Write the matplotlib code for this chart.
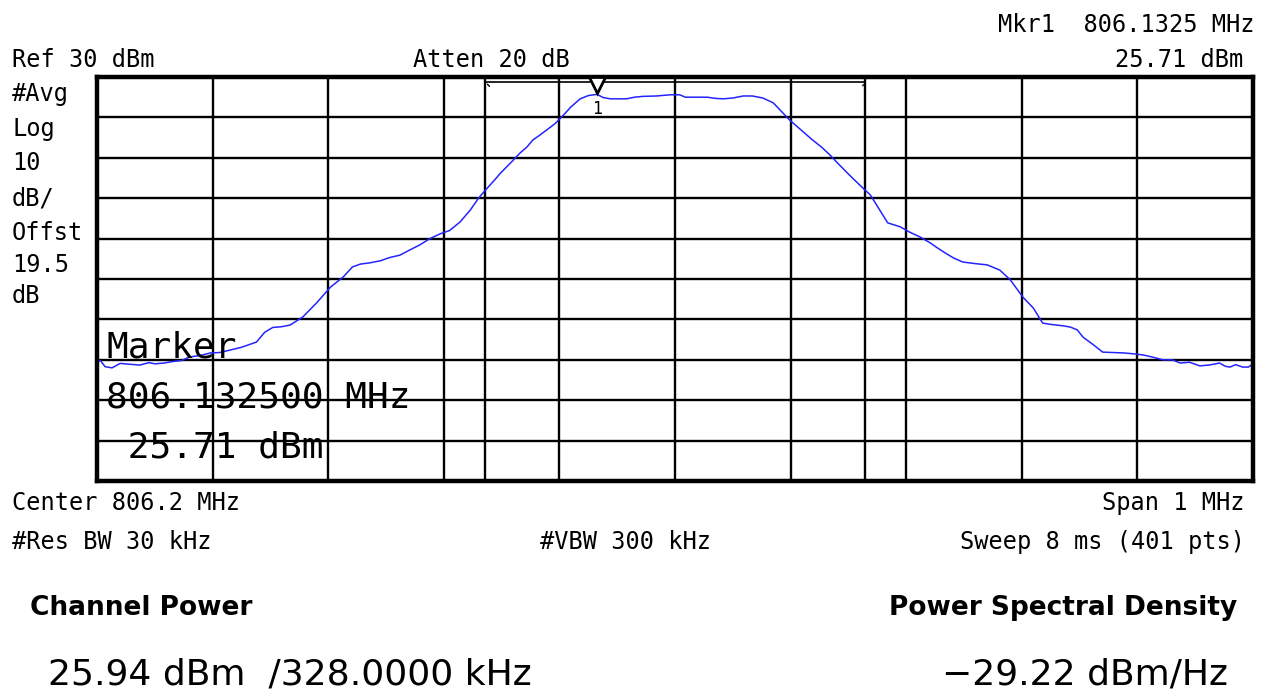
import matplotlib
matplotlib.use("Agg")
import matplotlib.pyplot as plt
import matplotlib.transforms as mtransforms

# ---------------- data ----------------
center_mhz = 806.2
span_mhz = 1.0
ref_dbm = 30.0
db_per_div = 10.0
channel_bw_mhz = 0.328

marker_freq_mhz = 806.1325
marker_level_dbm = 25.71

trace_offset_khz = [0, 3, 7, 13, 20, 28, 37, 45, 50, 58, 66, 73, 80, 90, 98, 106,
                    115, 125, 138, 145, 152, 160, 167, 178, 190, 202, 213, 221,
                    228, 236, 245, 253, 262, 270, 279, 288, 297, 305, 314, 323,
                    330, 336, 343, 349, 358, 366, 372, 377, 383, 389, 396, 402,
                    410, 418, 425, 432.5, 438, 444, 451, 458, 465, 472, 484, 496,
                    504, 509, 518, 528, 535, 542, 550, 559, 567, 576, 585, 591,
                    599, 609, 619, 627, 634, 642, 651, 660, 669, 677, 684, 695,
                    703, 712, 721, 727, 734, 741, 749, 760, 770, 781, 790, 801,
                    810, 818, 824, 830, 836, 842, 848, 853, 862, 870, 879, 888,
                    896, 905, 914, 922, 930, 937, 945, 954, 962, 971, 976, 980,
                    985, 991, 996, 1000]
trace_dbm = [-40.5, -40.2, -41.7, -42.0, -40.9, -41.1, -41.3, -40.7, -41.0, -40.8,
             -40.4, -40.2, -39.3, -38.9, -38.3, -38.2, -37.6, -36.9, -35.6, -33.2,
             -32.0, -31.8, -31.4, -29.4, -25.9, -22.0, -19.5, -17.0, -16.3, -16.0,
             -15.5, -14.7, -14.1, -12.9, -11.6, -10.0, -8.8, -8.0, -5.9, -2.9,
             0.0, 2.0, 4.2, 6.2, 8.8, 11.2, 12.7, 14.4, 15.6, 16.9, 18.4, 20.1,
             22.6, 24.6, 25.4, 25.71, 24.9, 24.6, 24.6, 24.6, 25.0, 25.2, 25.3, 25.6,
             25.6, 25.0, 25.0, 25.0, 24.7, 24.6, 24.8, 25.3, 25.3, 24.8, 23.6, 21.8,
             19.4, 16.9, 14.4, 12.6, 10.7, 8.3, 5.7, 3.2, 0.8, -2.9, -6.1, -7.1,
             -8.4, -9.6, -11.1, -12.3, -13.6, -14.8, -15.8, -16.2, -16.5, -17.8,
             -20.2, -24.5, -27.2, -30.9, -31.2, -31.4, -31.6, -31.9, -32.6, -34.4,
             -36.3, -38.1, -38.2, -38.3, -38.5, -38.8, -39.4, -40.0, -40.0, -40.8,
             -40.6, -41.5, -41.3, -40.8, -41.6, -41.8, -41.2, -41.8, -41.8, -41.0]

left_labels = ["#Avg", "Log", "10", "dB/", "Offst", "19.5", "dB"]

header_mkr = "Mkr1  806.1325 MHz"
header_lvl = "25.71 dBm"
header_ref = "Ref 30 dBm"
header_atten = "Atten 20 dB"
footer_center = "Center 806.2 MHz"
footer_span = "Span 1 MHz"
footer_rbw = "#Res BW 30 kHz"
footer_vbw = "#VBW 300 kHz"
footer_sweep = "Sweep 8 ms (401 pts)"
marker_block = ["Marker", "806.132500 MHz", " 25.71 dBm"]
cp_title = "Channel Power"
cp_value = "25.94 dBm  /328.0000 kHz"
psd_title = "Power Spectral Density"
psd_value = "\u221229.22 dBm/Hz"

# ---------------- figure ----------------
W, H = 1267, 690
fig = plt.figure(figsize=(W / 100, H / 100), dpi=100)
fig.patch.set_facecolor("white")

ax_l, ax_r, ax_t, ax_b = 97, 1253, 77, 481
ax = fig.add_axes([ax_l / W, 1 - ax_b / H, (ax_r - ax_l) / W, (ax_b - ax_t) / H])

f_start = center_mhz - span_mhz / 2
f_stop = center_mhz + span_mhz / 2
bottom_dbm = ref_dbm - 10 * db_per_div
ax.set_xlim(f_start, f_stop)
ax.set_ylim(bottom_dbm, ref_dbm)
ax.set_xticks([f_start + i * span_mhz / 10 for i in range(11)])
ax.set_yticks([bottom_dbm + i * db_per_div for i in range(11)])
ax.tick_params(left=False, bottom=False, labelleft=False, labelbottom=False)
ax.grid(True, color="black", linewidth=1.7, zorder=1)
ax.set_axisbelow(True)
for sp in ax.spines.values():
    sp.set_linewidth(3.2)
    sp.set_color("black")
    sp.set_zorder(5)

# channel edges
ch_lo = center_mhz - channel_bw_mhz / 2
ch_hi = center_mhz + channel_bw_mhz / 2
for fx in (ch_lo, ch_hi):
    ax.axvline(fx, color="black", linewidth=1.7, zorder=1)
xtr = ax.get_xaxis_transform()
bracket_y = 0.987
ax.plot([ch_lo, ch_hi], [bracket_y, bracket_y], color="black", linewidth=1.2,
        transform=xtr, zorder=3, solid_capstyle="butt")
ax.annotate("", xy=(ch_lo, bracket_y), xycoords=xtr, xytext=(6, -6),
            textcoords="offset pixels",
            arrowprops=dict(arrowstyle="-", color="black", lw=1.0))
ax.annotate("", xy=(ch_hi, bracket_y), xycoords=xtr, xytext=(-3, -6),
            textcoords="offset pixels",
            arrowprops=dict(arrowstyle="-", color="black", lw=1.0))

# trace
trace_mhz = [f_start + k / 1000.0 for k in trace_offset_khz]
ax.plot(trace_mhz, trace_dbm, color="#2424ff", linewidth=1.1, zorder=4)

# marker symbol and its number
mk_tr = mtransforms.offset_copy(ax.transData, fig=fig, x=0, y=9, units="dots")
ax.plot([marker_freq_mhz], [marker_level_dbm], marker="v", markersize=11,
        markerfacecolor="white", markeredgecolor="black", markeredgewidth=2,
        transform=mk_tr, zorder=6, clip_on=False)
ax.annotate("1", xy=(marker_freq_mhz, marker_level_dbm), xycoords="data",
            xytext=(0, -15), textcoords="offset pixels", ha="center", va="center",
            fontsize=12, family="DejaVu Sans Mono", zorder=6)

mono = "DejaVu Sans Mono"


def T(x, y, s, **kw):
    kw.setdefault("family", mono)
    kw.setdefault("fontsize", 17)
    kw.setdefault("va", "baseline")
    fig.text(x / W, 1 - y / H, s, **kw)


T(1255, 32, header_mkr, ha="right")
T(1243, 67, header_lvl, ha="right")
T(12, 67, header_ref, ha="left")
T(413, 67, header_atten, ha="left")

left_baselines = [101, 136, 170, 205, 240, 272, 303]
for lab, yb in zip(left_labels, left_baselines):
    T(12, yb, lab, ha="left")

T(12, 510, footer_center, ha="left")
T(1245, 510, footer_span, ha="right")
T(12, 549, footer_rbw, ha="left")
T(540, 549, footer_vbw, ha="left")
T(1245, 549, footer_sweep, ha="right")

for s, yb in zip(marker_block, [358, 407, 457]):
    T(106, yb, s, ha="left", fontsize=26, zorder=7)

T(30, 615, cp_title, ha="left", family="DejaVu Sans", fontsize=19, weight="bold")
T(1237, 615, psd_title, ha="right", family="DejaVu Sans", fontsize=19, weight="bold")
T(48, 684, cp_value, ha="left", family="DejaVu Sans", fontsize=26)
T(1228, 684, psd_value, ha="right", family="DejaVu Sans", fontsize=26)

fig.savefig("out.png", dpi=100, facecolor="white")
